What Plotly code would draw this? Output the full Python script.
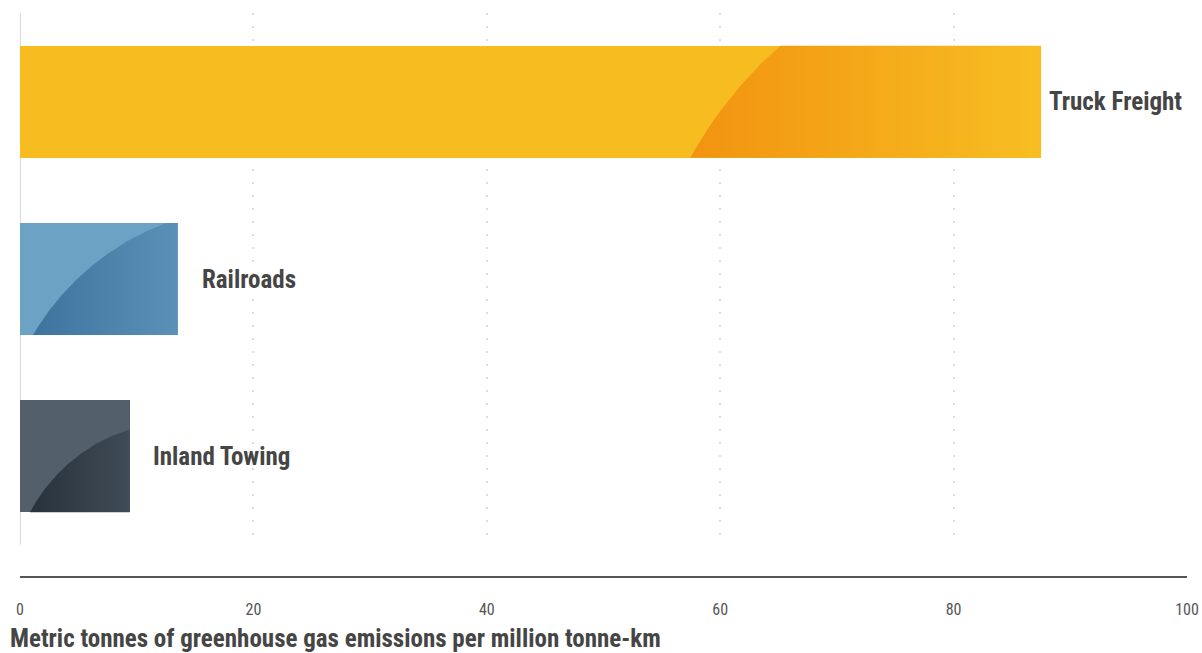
import numpy as np
import plotly.graph_objects as go

# ---------------- data ----------------
categories = ["Truck Freight", "Railroads", "Inland Towing"]
emissions = [87.5, 13.5, 9.4]
tick_values = [0, 20, 40, 60, 80, 100]
tick_labels = ["0", "20", "40", "60", "80", "100"]
axis_title = "Metric tonnes of greenhouse gas emissions per million tonne-km"

# ---------------- style ----------------
W, H = 1202, 653
M_L, M_R, M_T, M_B = 20, 15, 13, 108
PLOT_W = W - M_L - M_R
PLOT_H = H - M_T - M_B
X_MAX = 100
N = len(categories)
BAR_W = 0.632

base_colors = ["#f7bc1f", "#6ca2c4", "#535f6a"]
grad_colors = [("#f29310", "#f7be22"), ("#3e739e", "#5b91b7"), ("#29323b", "#3f4b56")]
# decorative arc: circle centre offset (px) from bar's bottom-left corner, radius (px)
arc_params = [(1034, 200, 415), (237, 131, 259.5), (160, 79, 169.6)]
label_shift = [6, 22, 21]
FONT = "Roboto Condensed, Liberation Sans Narrow, DejaVu Sans Condensed, Roboto, sans-serif"

px_x = X_MAX / PLOT_W          # data units per px on x
px_y = N / PLOT_H              # data units per px on y

positions = [N - 1 - i for i in range(N)]

fig = go.Figure()
fig.add_trace(go.Bar(
    y=positions, x=emissions, orientation="h", width=BAR_W,
    marker=dict(color=base_colors, line=dict(width=0)),
    hoverinfo="skip", showlegend=False,
))

bar_h_px = BAR_W / px_y
for i, (val, pos) in enumerate(zip(emissions, positions)):
    x0, x1 = 0.0, val / px_x              # px relative to bar left
    yb, yt = 0.0, bar_h_px                 # px measured up from bar bottom
    dx, ddown, r = arc_params[i]
    cx, cy = dx, -ddown
    left_pts, right_pts = [], []
    for yy in np.linspace(yt, yb, 120):
        d = yy - cy
        if abs(d) >= r:
            continue
        s = np.sqrt(r * r - d * d)
        lo, hi = max(x0, cx - s), min(x1, cx + s)
        if lo < hi:
            left_pts.append((lo, yy))
            right_pts.append((hi, yy))
    pts = left_pts + right_pts[::-1]
    xs = [p[0] * px_x for p in pts]
    ys = [pos - BAR_W / 2 + p[1] * px_y for p in pts]
    fig.add_trace(go.Scatter(
        x=xs, y=ys, mode="lines", fill="toself", line=dict(width=0),
        fillgradient=dict(type="horizontal",
                          colorscale=[[0, grad_colors[i][0]], [1, grad_colors[i][1]]]),
        hoverinfo="skip", showlegend=False,
    ))
    fig.add_annotation(
        x=val, y=pos, text=f"<b>{categories[i]}</b>", showarrow=False,
        xanchor="left", yanchor="middle", xshift=label_shift[i],
        font=dict(family=FONT, size=25, color="#454545"),
    )

# light vertical baseline at x=0
fig.add_shape(type="line", xref="x", yref="paper", x0=0, x1=0, y0=0, y1=1,
              line=dict(color="#d8d8d8", width=2), layer="below")
# dark x-axis line set below the plot
fig.add_shape(type="line", xref="paper", yref="paper", x0=0, x1=1,
              y0=-32 / PLOT_H, y1=-32 / PLOT_H,
              line=dict(color="#555555", width=2))

fig.add_annotation(
    xref="paper", yref="paper", x=-12 / PLOT_W, y=(H - M_B - 638) / PLOT_H,
    text=f"<b>{axis_title}</b>", showarrow=False, xanchor="left", yanchor="middle",
    font=dict(family=FONT, size=25, color="#454545"),
)

fig.update_layout(
    width=W, height=H,
    margin=dict(l=M_L, r=M_R, t=M_T, b=M_B, autoexpand=False),
    paper_bgcolor="white", plot_bgcolor="white",
    bargap=0,
    xaxis=dict(range=[0, X_MAX], tickvals=tick_values, ticktext=tick_labels,
               showgrid=True, gridcolor="#dcdcdc", gridwidth=2, griddash="2px,11px",
               zeroline=False, showline=False, ticks="", automargin=False,
               ticklabelstandoff=53,
               tickfont=dict(family=FONT, size=16, color="#555555")),
    yaxis=dict(range=[-0.5, N - 0.5], showticklabels=False, showgrid=False,
               zeroline=False, showline=False, automargin=False),
)

fig.write_html("out.html")
